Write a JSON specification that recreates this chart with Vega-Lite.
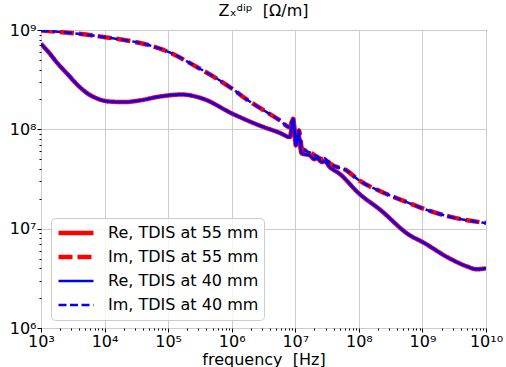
{
  "$schema": "https://vega.github.io/schema/vega-lite/v6.json",
  "width": 445,
  "height": 298,
  "autosize": "none",
  "padding": {"left": 41, "top": 30, "right": 20, "bottom": 39},
  "background": "white",
  "config": {
    "font": "DejaVu Sans",
    "view": {"stroke": "#000000", "strokeWidth": 1}
  },
  "title": {"text": "Zₓᵈⁱᵖ\u00a0 [Ω/m]", "fontSize": 16, "fontWeight": "normal", "font": "DejaVu Sans", "color": "#000000", "offset": 3},
  "data": {
    "values": [
      {"s": "Re, TDIS at 55 mm", "f": 1000, "z": 7.26e8},
      {"s": "Re, TDIS at 55 mm", "f": 1288, "z": 6.08e8},
      {"s": "Re, TDIS at 55 mm", "f": 1849, "z": 4.57e8},
      {"s": "Re, TDIS at 55 mm", "f": 2655, "z": 3.56e8},
      {"s": "Re, TDIS at 55 mm", "f": 3819, "z": 2.77e8},
      {"s": "Re, TDIS at 55 mm", "f": 5483, "z": 2.28e8},
      {"s": "Re, TDIS at 55 mm", "f": 7870, "z": 2.03e8},
      {"s": "Re, TDIS at 55 mm", "f": 11300, "z": 1.91e8},
      {"s": "Re, TDIS at 55 mm", "f": 20700, "z": 1.88e8},
      {"s": "Re, TDIS at 55 mm", "f": 35000, "z": 1.95e8},
      {"s": "Re, TDIS at 55 mm", "f": 74300, "z": 2.14e8},
      {"s": "Re, TDIS at 55 mm", "f": 163000, "z": 2.24e8},
      {"s": "Re, TDIS at 55 mm", "f": 356000, "z": 2.03e8},
      {"s": "Re, TDIS at 55 mm", "f": 1019000, "z": 1.44e8},
      {"s": "Re, TDIS at 55 mm", "f": 2773000, "z": 1.09e8},
      {"s": "Re, TDIS at 55 mm", "f": 5728000, "z": 9.2e7},
      {"s": "Re, TDIS at 55 mm", "f": 8222000, "z": 8.36e7},
      {"s": "Re, TDIS at 55 mm", "f": 9268000, "z": 1.28e8},
      {"s": "Re, TDIS at 55 mm", "f": 10210000, "z": 6.89e7},
      {"s": "Re, TDIS at 55 mm", "f": 11090000, "z": 9.10e7},
      {"s": "Re, TDIS at 55 mm", "f": 12560000, "z": 5.73e7},
      {"s": "Re, TDIS at 55 mm", "f": 16980000, "z": 5.46e7},
      {"s": "Re, TDIS at 55 mm", "f": 19950000, "z": 5.01e7},
      {"s": "Re, TDIS at 55 mm", "f": 21880000, "z": 5.13e7},
      {"s": "Re, TDIS at 55 mm", "f": 26300000, "z": 4.68e7},
      {"s": "Re, TDIS at 55 mm", "f": 28840000, "z": 4.79e7},
      {"s": "Re, TDIS at 55 mm", "f": 34990000, "z": 4.17e7},
      {"s": "Re, TDIS at 55 mm", "f": 50230000, "z": 3.55e7},
      {"s": "Re, TDIS at 55 mm", "f": 101200000, "z": 2.25e7},
      {"s": "Re, TDIS at 55 mm", "f": 213800000, "z": 1.56e7},
      {"s": "Re, TDIS at 55 mm", "f": 633900000, "z": 8.57e6},
      {"s": "Re, TDIS at 55 mm", "f": 1005000000, "z": 7.33e6},
      {"s": "Re, TDIS at 55 mm", "f": 2692000000, "z": 5.01e6},
      {"s": "Re, TDIS at 55 mm", "f": 5012000000, "z": 4.17e6},
      {"s": "Re, TDIS at 55 mm", "f": 7161000000, "z": 3.90e6},
      {"s": "Re, TDIS at 55 mm", "f": 10000000000, "z": 3.99e6},
      {"s": "Im, TDIS at 55 mm", "f": 1000, "z": 9.89e8},
      {"s": "Im, TDIS at 55 mm", "f": 2692, "z": 9.38e8},
      {"s": "Im, TDIS at 55 mm", "f": 10140, "z": 8.47e8},
      {"s": "Im, TDIS at 55 mm", "f": 51760, "z": 6.98e8},
      {"s": "Im, TDIS at 55 mm", "f": 89130, "z": 6.22e8},
      {"s": "Im, TDIS at 55 mm", "f": 103000, "z": 5.98e8},
      {"s": "Im, TDIS at 55 mm", "f": 316200, "z": 4.07e8},
      {"s": "Im, TDIS at 55 mm", "f": 652000, "z": 3.10e8},
      {"s": "Im, TDIS at 55 mm", "f": 1019000, "z": 2.56e8},
      {"s": "Im, TDIS at 55 mm", "f": 1714000, "z": 2.0e8},
      {"s": "Im, TDIS at 55 mm", "f": 2399000, "z": 1.74e8},
      {"s": "Im, TDIS at 55 mm", "f": 5728000, "z": 1.23e8},
      {"s": "Im, TDIS at 55 mm", "f": 8222000, "z": 1.05e8},
      {"s": "Im, TDIS at 55 mm", "f": 9162000, "z": 1.26e8},
      {"s": "Im, TDIS at 55 mm", "f": 10210000, "z": 7.76e7},
      {"s": "Im, TDIS at 55 mm", "f": 11400000, "z": 9.77e7},
      {"s": "Im, TDIS at 55 mm", "f": 12710000, "z": 6.46e7},
      {"s": "Im, TDIS at 55 mm", "f": 14160000, "z": 6.14e7},
      {"s": "Im, TDIS at 55 mm", "f": 16980000, "z": 5.86e7},
      {"s": "Im, TDIS at 55 mm", "f": 21380000, "z": 5.37e7},
      {"s": "Im, TDIS at 55 mm", "f": 26300000, "z": 5.01e7},
      {"s": "Im, TDIS at 55 mm", "f": 28840000, "z": 5.13e7},
      {"s": "Im, TDIS at 55 mm", "f": 34990000, "z": 4.54e7},
      {"s": "Im, TDIS at 55 mm", "f": 64120000, "z": 3.85e7},
      {"s": "Im, TDIS at 55 mm", "f": 101200000, "z": 3.06e7},
      {"s": "Im, TDIS at 55 mm", "f": 213800000, "z": 2.39e7},
      {"s": "Im, TDIS at 55 mm", "f": 633900000, "z": 1.80e7},
      {"s": "Im, TDIS at 55 mm", "f": 1005000000, "z": 1.60e7},
      {"s": "Im, TDIS at 55 mm", "f": 2692000000, "z": 1.32e7},
      {"s": "Im, TDIS at 55 mm", "f": 10000000000, "z": 1.14e7},
      {"s": "Re, TDIS at 40 mm", "f": 1000, "z": 7.26e8},
      {"s": "Re, TDIS at 40 mm", "f": 1288, "z": 6.08e8},
      {"s": "Re, TDIS at 40 mm", "f": 1849, "z": 4.57e8},
      {"s": "Re, TDIS at 40 mm", "f": 2655, "z": 3.56e8},
      {"s": "Re, TDIS at 40 mm", "f": 3819, "z": 2.77e8},
      {"s": "Re, TDIS at 40 mm", "f": 5483, "z": 2.28e8},
      {"s": "Re, TDIS at 40 mm", "f": 7870, "z": 2.03e8},
      {"s": "Re, TDIS at 40 mm", "f": 11300, "z": 1.91e8},
      {"s": "Re, TDIS at 40 mm", "f": 20700, "z": 1.88e8},
      {"s": "Re, TDIS at 40 mm", "f": 35000, "z": 1.95e8},
      {"s": "Re, TDIS at 40 mm", "f": 74300, "z": 2.14e8},
      {"s": "Re, TDIS at 40 mm", "f": 163000, "z": 2.24e8},
      {"s": "Re, TDIS at 40 mm", "f": 356000, "z": 2.03e8},
      {"s": "Re, TDIS at 40 mm", "f": 1019000, "z": 1.44e8},
      {"s": "Re, TDIS at 40 mm", "f": 2773000, "z": 1.09e8},
      {"s": "Re, TDIS at 40 mm", "f": 5728000, "z": 9.2e7},
      {"s": "Re, TDIS at 40 mm", "f": 8222000, "z": 8.36e7},
      {"s": "Re, TDIS at 40 mm", "f": 9268000, "z": 1.28e8},
      {"s": "Re, TDIS at 40 mm", "f": 10210000, "z": 6.89e7},
      {"s": "Re, TDIS at 40 mm", "f": 11090000, "z": 9.10e7},
      {"s": "Re, TDIS at 40 mm", "f": 12560000, "z": 5.73e7},
      {"s": "Re, TDIS at 40 mm", "f": 16980000, "z": 5.46e7},
      {"s": "Re, TDIS at 40 mm", "f": 19950000, "z": 5.01e7},
      {"s": "Re, TDIS at 40 mm", "f": 21880000, "z": 5.13e7},
      {"s": "Re, TDIS at 40 mm", "f": 26300000, "z": 4.68e7},
      {"s": "Re, TDIS at 40 mm", "f": 28840000, "z": 4.79e7},
      {"s": "Re, TDIS at 40 mm", "f": 34990000, "z": 4.17e7},
      {"s": "Re, TDIS at 40 mm", "f": 50230000, "z": 3.55e7},
      {"s": "Re, TDIS at 40 mm", "f": 101200000, "z": 2.25e7},
      {"s": "Re, TDIS at 40 mm", "f": 213800000, "z": 1.56e7},
      {"s": "Re, TDIS at 40 mm", "f": 633900000, "z": 8.57e6},
      {"s": "Re, TDIS at 40 mm", "f": 1005000000, "z": 7.33e6},
      {"s": "Re, TDIS at 40 mm", "f": 2692000000, "z": 5.01e6},
      {"s": "Re, TDIS at 40 mm", "f": 5012000000, "z": 4.17e6},
      {"s": "Re, TDIS at 40 mm", "f": 7161000000, "z": 3.90e6},
      {"s": "Re, TDIS at 40 mm", "f": 10000000000, "z": 3.99e6},
      {"s": "Im, TDIS at 40 mm", "f": 1000, "z": 9.89e8},
      {"s": "Im, TDIS at 40 mm", "f": 2692, "z": 9.38e8},
      {"s": "Im, TDIS at 40 mm", "f": 10140, "z": 8.47e8},
      {"s": "Im, TDIS at 40 mm", "f": 51760, "z": 6.98e8},
      {"s": "Im, TDIS at 40 mm", "f": 89130, "z": 6.22e8},
      {"s": "Im, TDIS at 40 mm", "f": 103000, "z": 5.98e8},
      {"s": "Im, TDIS at 40 mm", "f": 316200, "z": 4.07e8},
      {"s": "Im, TDIS at 40 mm", "f": 652000, "z": 3.10e8},
      {"s": "Im, TDIS at 40 mm", "f": 1019000, "z": 2.56e8},
      {"s": "Im, TDIS at 40 mm", "f": 1714000, "z": 2.0e8},
      {"s": "Im, TDIS at 40 mm", "f": 2399000, "z": 1.74e8},
      {"s": "Im, TDIS at 40 mm", "f": 5728000, "z": 1.23e8},
      {"s": "Im, TDIS at 40 mm", "f": 8222000, "z": 1.05e8},
      {"s": "Im, TDIS at 40 mm", "f": 9162000, "z": 1.26e8},
      {"s": "Im, TDIS at 40 mm", "f": 10210000, "z": 7.76e7},
      {"s": "Im, TDIS at 40 mm", "f": 11400000, "z": 9.77e7},
      {"s": "Im, TDIS at 40 mm", "f": 12710000, "z": 6.46e7},
      {"s": "Im, TDIS at 40 mm", "f": 14160000, "z": 6.14e7},
      {"s": "Im, TDIS at 40 mm", "f": 16980000, "z": 5.86e7},
      {"s": "Im, TDIS at 40 mm", "f": 21380000, "z": 5.37e7},
      {"s": "Im, TDIS at 40 mm", "f": 26300000, "z": 5.01e7},
      {"s": "Im, TDIS at 40 mm", "f": 28840000, "z": 5.13e7},
      {"s": "Im, TDIS at 40 mm", "f": 34990000, "z": 4.54e7},
      {"s": "Im, TDIS at 40 mm", "f": 64120000, "z": 3.85e7},
      {"s": "Im, TDIS at 40 mm", "f": 101200000, "z": 3.06e7},
      {"s": "Im, TDIS at 40 mm", "f": 213800000, "z": 2.39e7},
      {"s": "Im, TDIS at 40 mm", "f": 633900000, "z": 1.80e7},
      {"s": "Im, TDIS at 40 mm", "f": 1005000000, "z": 1.60e7},
      {"s": "Im, TDIS at 40 mm", "f": 2692000000, "z": 1.32e7},
      {"s": "Im, TDIS at 40 mm", "f": 10000000000, "z": 1.14e7}
    ]
  },
  "encoding": {
    "color": {
      "field": "s", "type": "nominal",
      "scale": {"domain": ["Re, TDIS at 55 mm", "Im, TDIS at 55 mm", "Re, TDIS at 40 mm", "Im, TDIS at 40 mm"], "range": ["#ff0000", "#ff0000", "#0000ff", "#0000ff"]},
      "legend": {
        "orient": "none", "legendX": 10, "legendY": 188, "title": null,
        "symbolType": "stroke", "symbolSize": 1225, "clipHeight": 20, "rowPadding": 4,
        "labelFont": "DejaVu Sans", "labelFontSize": 16, "labelColor": "#000000", "labelOffset": 12, "labelLimit": 300,
        "padding": 5, "strokeColor": "#cccccc", "cornerRadius": 4, "fillColor": "rgba(255,255,255,0.8)"
      }
    },
    "strokeDash": {
      "field": "s", "type": "nominal",
      "scale": {"domain": ["Re, TDIS at 55 mm", "Im, TDIS at 55 mm", "Re, TDIS at 40 mm", "Im, TDIS at 40 mm"], "range": [[1, 0], [14, 5], [1, 0], [8, 3.5]]},
      "legend": {
        "orient": "none", "legendX": 10, "legendY": 188, "title": null,
        "symbolType": "stroke", "symbolSize": 1225, "clipHeight": 20, "rowPadding": 4,
        "labelFont": "DejaVu Sans", "labelFontSize": 16, "labelColor": "#000000", "labelOffset": 12, "labelLimit": 300,
        "padding": 5, "strokeColor": "#cccccc", "cornerRadius": 4, "fillColor": "rgba(255,255,255,0.8)"
      }
    },
    "strokeWidth": {
      "field": "s", "type": "nominal",
      "scale": {"type": "ordinal", "domain": ["Re, TDIS at 55 mm", "Im, TDIS at 55 mm", "Re, TDIS at 40 mm", "Im, TDIS at 40 mm"], "range": [4.5, 4.5, 2.5, 2.5]},
      "legend": {
        "orient": "none", "legendX": 10, "legendY": 188, "title": null,
        "symbolType": "stroke", "symbolSize": 1225, "clipHeight": 20, "rowPadding": 4,
        "labelFont": "DejaVu Sans", "labelFontSize": 16, "labelColor": "#000000", "labelOffset": 12, "labelLimit": 300,
        "padding": 5, "strokeColor": "#cccccc", "cornerRadius": 4, "fillColor": "rgba(255,255,255,0.8)"
      }
    }
  },
  "layer": [
    {
      "transform": [{"filter": "indexof(datum.s, '55') >= 0"}],
      "mark": {"type": "line", "interpolate": "monotone", "clip": true},
      "encoding": {
        "x": {
          "field": "f", "type": "quantitative",
          "scale": {"type": "log", "domain": [1000, 10000000000], "nice": false},
          "axis": {
            "values": [1000, 10000, 100000, 1000000, 10000000, 100000000, 1000000000, 10000000000],
            "labelExpr": "datum.value >= 1e10 ? '10¹⁰' : '10' + ['⁰','¹','²','³','⁴','⁵','⁶','⁷','⁸','⁹'][round(log(datum.value)/LN10)]",
            "title": "frequency\u00a0 [Hz]", "titleFont": "DejaVu Sans", "titleFontSize": 16, "titleFontWeight": "normal", "titleColor": "#000000", "titlePadding": 2,
            "labelFont": "DejaVu Sans", "labelFontSize": 16, "labelColor": "#000000", "labelPadding": 1, "labelFlush": false, "labelOverlap": false,
            "domain": false, "ticks": true, "tickSize": 4, "tickColor": "#000000",
            "grid": true, "gridColor": "#cccccc", "gridWidth": 1
          }
        },
        "y": {
          "field": "z", "type": "quantitative",
          "scale": {"type": "log", "domain": [1000000, 1000000000], "nice": false},
          "axis": {
            "values": [1000000, 10000000, 100000000, 1000000000],
            "labelExpr": "'10' + ['⁰','¹','²','³','⁴','⁵','⁶','⁷','⁸','⁹'][round(log(datum.value)/LN10)]",
            "title": null,
            "labelFont": "DejaVu Sans", "labelFontSize": 16, "labelColor": "#000000", "labelPadding": 1, "labelFlush": false, "labelOverlap": false,
            "domain": false, "ticks": true, "tickSize": 4, "tickColor": "#000000",
            "grid": true, "gridColor": "#cccccc", "gridWidth": 1
          }
        }
      }
    },
    {
      "transform": [{"filter": "indexof(datum.s, '40') >= 0"}],
      "mark": {"type": "line", "interpolate": "monotone", "clip": true},
      "encoding": {
        "x": {"field": "f", "type": "quantitative", "scale": {"type": "log", "domain": [1000, 10000000000], "nice": false}, "axis": null},
        "y": {"field": "z", "type": "quantitative", "scale": {"type": "log", "domain": [1000000, 1000000000], "nice": false}, "axis": null}
      }
    },
    {
      "transform": [{"filter": "indexof(datum.s, '40') >= 0"}],
      "mark": {"type": "line", "opacity": 0},
      "encoding": {
        "x": {
          "field": "f", "type": "quantitative", "scale": {"type": "log", "domain": [1000, 10000000000], "nice": false},
          "axis": {
            "orient": "bottom", "title": null, "labels": false, "grid": false, "domain": false, "ticks": true, "tickSize": 2, "tickColor": "#000000",
            "values": [2000,3000,4000,5000,6000,7000,8000,9000,20000,30000,40000,50000,60000,70000,80000,90000,200000,300000,400000,500000,600000,700000,800000,900000,2000000,3000000,4000000,5000000,6000000,7000000,8000000,9000000,20000000,30000000,40000000,50000000,60000000,70000000,80000000,90000000,200000000,300000000,400000000,500000000,600000000,700000000,800000000,900000000,2000000000,3000000000,4000000000,5000000000,6000000000,7000000000,8000000000,9000000000]
          }
        },
        "y": {
          "field": "z", "type": "quantitative", "scale": {"type": "log", "domain": [1000000, 1000000000], "nice": false},
          "axis": {
            "orient": "left", "title": null, "labels": false, "grid": false, "domain": false, "ticks": true, "tickSize": 2, "tickColor": "#000000",
            "values": [2000000,3000000,4000000,5000000,6000000,7000000,8000000,9000000,20000000,30000000,40000000,50000000,60000000,70000000,80000000,90000000,200000000,300000000,400000000,500000000,600000000,700000000,800000000,900000000]
          }
        }
      }
    }
  ],
  "resolve": {"axis": {"x": "independent", "y": "independent"}}
}
